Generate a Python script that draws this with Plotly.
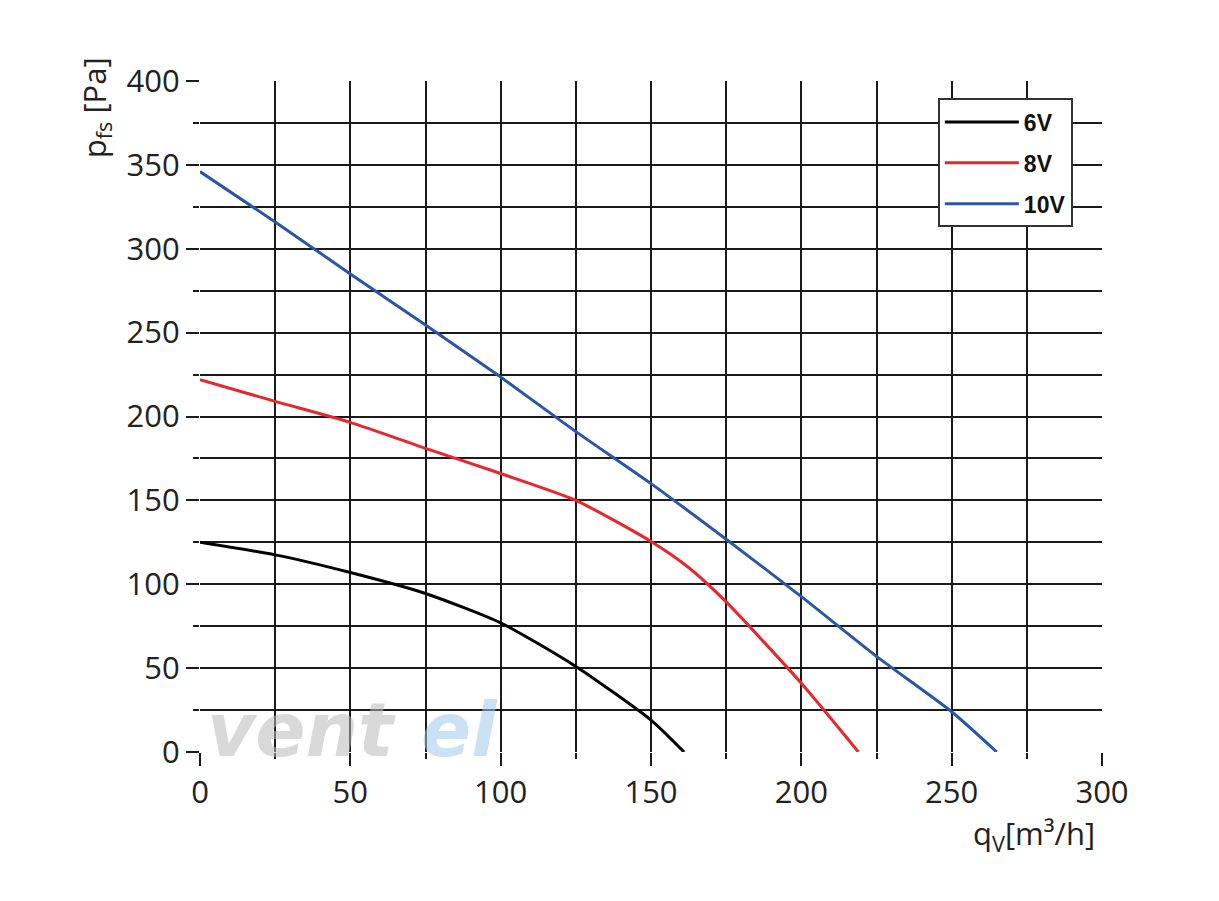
import plotly.graph_objects as go

q_6v = [0, 25, 50, 75, 100, 125, 150, 161]
p_6v = [125, 117.5, 107, 94.5, 77, 51, 19, 0]

q_8v = [0, 25, 50, 75, 100, 125, 150, 162.5, 175, 200, 219]
p_8v = [222, 209, 196.5, 181, 166, 150, 125.5, 110, 89.5, 41, 0]

q_10v = [0, 25, 50, 75, 100, 125, 150, 175, 200, 225, 250, 265]
p_10v = [346, 316, 285, 254.5, 223.5, 191, 160, 126.8, 92.6, 57, 24, 0]

series = [("6V", q_6v, p_6v, "#000000"),
          ("8V", q_8v, p_8v, "#e8262b"),
          ("10V", q_10v, p_10v, "#2b55a6")]

x_ticks = [0, 50, 100, 150, 200, 250, 300]
y_ticks = [0, 50, 100, 150, 200, 250, 300, 350, 400]

fig = go.Figure()
for name, q, p, c in series:
    fig.add_trace(go.Scatter(x=q, y=p, mode="lines", name=name, legendgroup=name,
                             line=dict(color=c, width=3, shape="spline", smoothing=0.6)))

font_main = "'Open Sans', sans-serif"
axis_common = dict(showline=False, zeroline=False, showgrid=True, gridcolor="#1a1a1a", gridwidth=2,
                   ticks="outside", ticklen=13, tickwidth=2, tickcolor="#1a1a1a",
                   tickfont=dict(family=font_main, size=31, color="#222"))

fig.update_xaxes(range=[0, 300], tickvals=x_ticks, ticktext=[str(v) for v in x_ticks],
                 minor=dict(dtick=25, tick0=0, showgrid=True, gridcolor="#1a1a1a", gridwidth=2,
                            ticks="outside", ticklen=6, tickwidth=2, tickcolor="#1a1a1a"),
                 **axis_common)
fig.update_yaxes(range=[0, 400], tickvals=y_ticks, ticktext=[str(v) for v in y_ticks],
                 minor=dict(dtick=25, tick0=0, showgrid=True, gridcolor="#1a1a1a", gridwidth=2,
                            ticks="outside", ticklen=6, tickwidth=2, tickcolor="#1a1a1a"),
                 **axis_common)

fig.add_annotation(text="p<sub>fs</sub> [Pa]", xref="paper", yref="paper", x=-0.116, y=0.96,
                   xanchor="center", yanchor="middle", textangle=-90, showarrow=False,
                   font=dict(family=font_main, size=31, color="#222"))
fig.add_annotation(text="q<sub>V</sub>[m³/h]", xref="paper", yref="paper", x=0.994, y=-0.124,
                   xanchor="right", yanchor="middle", showarrow=False,
                   font=dict(family=font_main, size=31, color="#222"))

# faint watermark
fig.add_annotation(text="<b><i>vent</i></b>", xref="paper", yref="paper", x=0.006, y=-0.034,
                   xanchor="left", yanchor="bottom", showarrow=False,
                   font=dict(family="DejaVu Sans", size=74, color="rgba(185,185,185,0.55)"))
fig.add_annotation(text="<b><i>el</i></b>", xref="paper", yref="paper", x=0.243, y=-0.034,
                   xanchor="left", yanchor="bottom", showarrow=False,
                   font=dict(family="DejaVu Sans", size=74, color="rgba(160,200,235,0.55)"))

fig.update_layout(
    width=1203, height=885,
    margin=dict(l=192, r=109, t=73, b=141),
    plot_bgcolor="white", paper_bgcolor="white",
    showlegend=True,
    legend=dict(x=0.818, y=0.974, xanchor="left", yanchor="top",
                bgcolor="white", bordercolor="#333", borderwidth=2,
                font=dict(family="Liberation Sans", size=23, color="#111", weight="bold"),
                itemwidth=74, tracegroupgap=8),
)

fig.write_html("out.html")
